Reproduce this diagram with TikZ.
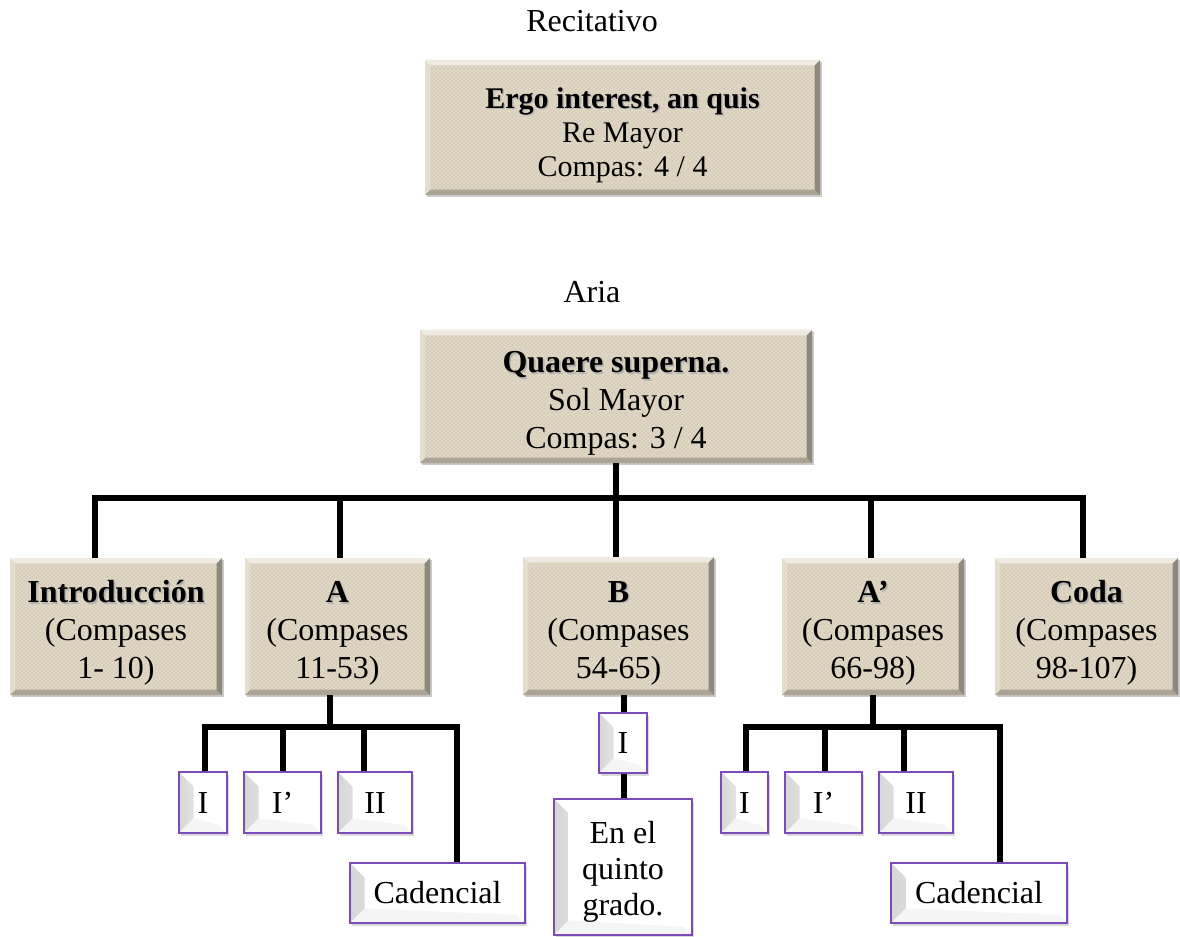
\documentclass[tikz,border=0pt]{standalone}
\usepackage{fontspec}
\setmainfont{Liberation Serif}
\usetikzlibrary{shadows,patterns}
\definecolor{tanfill}{RGB}{224,216,198}
\definecolor{pborder}{RGB}{125,75,185}
\newcommand\bvw{4pt}
% lines of a node, drawn #1 lower than their centred place
\newcommand\lns[2]{\raisebox{-#1}[\height][\depth]{\begin{tabular}{@{}c@{}}#2\end{tabular}}}
% bold text with a soft shadow
\newcommand\shd[1]{\leavevmode\rlap{\kern1.2pt\raisebox{-1.2pt}{\color{black!30}\textbf{#1}}}\textbf{#1}}
\tikzset{
  sz/.style 2 args={minimum width=#1*0.75pt, minimum height=#2*0.75pt},
  txt/.style={font=\fontsize{24}{28.5}\selectfont},
  tanbox/.style={fill=tanfill, inner sep=0pt, align=center,
    font=\fontsize{24}{28.5}\selectfont,
    drop shadow={shadow xshift=1.5pt, shadow yshift=-1.5pt, opacity=0.35, fill=black!60},
    path picture={
      \fill[pattern=crosshatch, pattern color=brown!60!gray, opacity=0.12]
        (path picture bounding box.south west) rectangle (path picture bounding box.north east);
      \fill[white, opacity=0.55] (path picture bounding box.north west) -- (path picture bounding box.north east)
        -- ([shift={(-\bvw,-\bvw)}]path picture bounding box.north east) -- ([shift={(\bvw,-\bvw)}]path picture bounding box.north west) -- cycle;
      \fill[white, opacity=0.25] (path picture bounding box.north west) -- ([shift={(\bvw,-\bvw)}]path picture bounding box.north west)
        -- ([shift={(\bvw,\bvw)}]path picture bounding box.south west) -- (path picture bounding box.south west) -- cycle;
      \fill[black, opacity=0.35] (path picture bounding box.north east) -- (path picture bounding box.south east)
        -- ([shift={(-\bvw,\bvw)}]path picture bounding box.south east) -- ([shift={(-\bvw,-\bvw)}]path picture bounding box.north east) -- cycle;
      \fill[black, opacity=0.22] (path picture bounding box.south west) -- (path picture bounding box.south east)
        -- ([shift={(-\bvw,\bvw)}]path picture bounding box.south east) -- ([shift={(\bvw,\bvw)}]path picture bounding box.south west) -- cycle;
    }},
  pbox/.style={draw=pborder, line width=1.4pt, fill=white, inner sep=0pt, align=center,
    font=\fontsize{24}{27}\selectfont,
    drop shadow={shadow xshift=1.5pt, shadow yshift=-2pt, opacity=0.3, fill=black!50},
    path picture={
      \shade[left color=black!16, right color=white] (path picture bounding box.north west)
        -- ([shift={(11pt,-11pt)}]path picture bounding box.north west)
        -- ([shift={(11pt,11pt)}]path picture bounding box.south west)
        -- (path picture bounding box.south west) -- cycle;
      \fill[black!4] (path picture bounding box.south west)
        -- ([shift={(11pt,11pt)}]path picture bounding box.south west)
        -- ([shift={(-6pt,6pt)}]path picture bounding box.south east)
        -- (path picture bounding box.south east) -- cycle;
    }},
  conn/.style={line width=4.3pt, line join=miter}
}
\begin{document}
\begin{tikzpicture}[x=0.75pt,y=-0.75pt]
\useasboundingbox (0,0) rectangle (1180,937);

% titles
\node[txt, anchor=base] (rtitle) at (592,32) {Recitativo};
\node[txt, anchor=base] (atitle) at (592,303) {Aria};

% top boxes
\node[tanbox, sz={395}{135}, font=\fontsize{22.5}{25.5}\selectfont] (top) at (622.5,127.5)
  {\lns{6pt}{\shd{Ergo interest, an quis}\\Re Mayor\\Compas: 4 / 4}};
\node[tanbox, sz={392}{133}] (aria) at (616,396.5)
  {\lns{5pt}{\shd{Quaere superna.}\\Sol Mayor\\Compas: 3 / 4}};

% second row
\node[tanbox, sz={212}{137}] (intro) at (116,626.5) {\lns{5pt}{\shd{Introducción}\\(Compases\\1- 10)}};
\node[tanbox, sz={185}{137}] (A) at (337.5,626.5) {\lns{5pt}{\shd{A}\\(Compases\\11-53)}};
\node[tanbox, sz={191}{138}] (B) at (618.5,626) {\lns{5pt}{\shd{B}\\(Compases\\54-65)}};
\node[tanbox, sz={182}{137}] (Ap) at (873,626.5) {\lns{5pt}{\shd{A’}\\(Compases\\66-98)}};
\node[tanbox, sz={183}{137}] (coda) at (1086.5,626.5) {\lns{5pt}{\shd{Coda}\\(Compases\\98-107)}};

% A branch
\node[pbox, sz={48}{61}] (aI) at (203,802.5) {\lns{2.5pt}{I}};
\node[pbox, sz={77}{61}] (aIp) at (282.5,802.5) {\lns{2.5pt}{I’}};
\node[pbox, sz={74}{61}] (aII) at (375,802.5) {\lns{2.5pt}{II}};
\node[pbox, sz={175}{60}] (aCad) at (437.5,893) {\lns{2.5pt}{Cadencial}};

% B branch
\node[pbox, sz={48}{60}] (bI) at (623,743) {\lns{2.5pt}{I}};
\node[pbox, sz={138}{136}] (bEn) at (623,867) {\lns{4pt}{En el\\quinto\\grado.}};

% A' branch
\node[pbox, sz={47}{61}] (pI) at (744.5,802.5) {\lns{2.5pt}{I}};
\node[pbox, sz={77}{61}] (pIp) at (823.5,802.5) {\lns{2.5pt}{I’}};
\node[pbox, sz={74}{61}] (pII) at (916,802.5) {\lns{2.5pt}{II}};
\node[pbox, sz={176}{60}] (pCad) at (979,893) {\lns{2.5pt}{Cadencial}};

% main connectors
\coordinate (jL) at (95,498);
\coordinate (jR) at (1083,498);
\coordinate (jA) at (340,498);
\coordinate (jAp) at (871,498);
\draw[conn] (aria.south) -- (aria.south |- B.north);
\draw[conn] (jL |- intro.north) -- (jL) -- (jR) -- (jR |- coda.north);
\draw[conn] (jA) -- (jA |- A.north);
\draw[conn] (jAp) -- (jAp |- Ap.north);

% A branch connectors
\coordinate (ab) at (330,727);
\coordinate (ab1) at (205,727);
\coordinate (ab2) at (283,727);
\coordinate (ab3) at (364,727);
\coordinate (ab4) at (457,727);
\draw[conn] (ab |- A.south) -- (ab);
\draw[conn] (ab1 |- aI.north) -- (ab1) -- (ab4) -- (ab4 |- aCad.north);
\draw[conn] (ab2) -- (ab2 |- aIp.north);
\draw[conn] (ab3) -- (ab3 |- aII.north);

% B branch connectors
\coordinate (bx) at (624,700);
\draw[conn] (bx |- B.south) -- (bx |- bI.north);
\draw[conn] (bx |- bI.south) -- (bx |- bEn.north);

% A' branch connectors
\coordinate (pb) at (873,727);
\coordinate (pb1) at (746,727);
\coordinate (pb2) at (825,727);
\coordinate (pb3) at (904,727);
\coordinate (pb4) at (1000,727);
\draw[conn] (pb |- Ap.south) -- (pb);
\draw[conn] (pb1 |- pI.north) -- (pb1) -- (pb4) -- (pb4 |- pCad.north);
\draw[conn] (pb2) -- (pb2 |- pIp.north);
\draw[conn] (pb3) -- (pb3 |- pII.north);
\end{tikzpicture}
\end{document}
